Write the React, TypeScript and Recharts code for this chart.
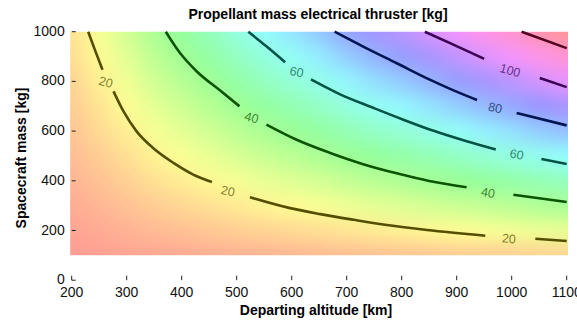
import { ComposedChart, XAxis, YAxis, Scatter, Line } from "recharts";

// grid of the coloured background
const altitudes = [200, 250, 300, 350, 400, 450, 500, 550, 600, 650, 700, 750, 800, 850, 900, 950, 1000, 1050, 1100];
const masses = [100, 200, 300, 400, 500, 600, 700, 800, 900, 1000];
const propellant = [
  [1.6, 2.3, 3.0, 3.8, 4.4, 5.1, 5.7, 6.4, 6.9, 7.5, 8.2, 8.8, 9.3, 9.9, 10.5, 11.1, 11.6, 12.3, 12.8],
  [3.2, 4.6, 6.0, 7.6, 8.8, 10.1, 11.5, 12.7, 13.8, 15.0, 16.4, 17.6, 18.6, 19.7, 20.9, 22.2, 23.3, 24.5, 25.5],
  [4.7, 6.8, 9.0, 11.3, 13.3, 15.2, 17.2, 19.1, 20.8, 22.4, 24.5, 26.3, 27.8, 29.6, 31.4, 33.2, 34.9, 36.8, 38.3],
  [6.3, 9.1, 12.0, 15.1, 17.7, 20.2, 22.9, 25.5, 27.7, 29.9, 32.7, 35.1, 37.1, 39.4, 41.8, 44.3, 46.5, 49.0, 51.0],
  [7.9, 11.4, 15.0, 18.9, 22.1, 25.3, 28.7, 31.9, 34.6, 37.4, 40.9, 43.9, 46.4, 49.3, 52.3, 55.4, 58.2, 61.3, 63.8],
  [9.5, 13.7, 18.0, 22.7, 26.5, 30.3, 34.4, 38.2, 41.5, 44.9, 49.1, 52.7, 55.7, 59.1, 62.7, 66.5, 69.8, 73.5, 76.5],
  [11.1, 16.0, 21.0, 26.5, 30.9, 35.4, 40.1, 44.6, 48.4, 52.4, 57.3, 61.5, 65.0, 69.0, 73.2, 77.6, 81.4, 85.8, 89.3],
  [12.6, 18.2, 24.0, 30.2, 35.4, 40.4, 45.8, 51.0, 55.4, 59.8, 65.4, 70.2, 74.2, 78.8, 83.6, 88.6, 93.0, 98.0, 102.0],
  [14.2, 20.5, 27.0, 34.0, 39.8, 45.5, 51.6, 57.3, 62.3, 67.3, 73.6, 79.0, 83.5, 88.7, 94.1, 99.7, 104.7, 110.3, 114.8],
  [15.8, 22.8, 30.0, 37.8, 44.2, 50.5, 57.3, 63.7, 69.2, 74.8, 81.8, 87.8, 92.8, 98.5, 104.5, 110.8, 116.3, 122.5, 127.5],
];
const colorMax = 128;

const xTicks = [200, 300, 400, 500, 600, 700, 800, 900, 1000, 1100];
const yTicks = [0, 200, 400, 600, 800, 1000];

// contour lines, split where the labels sit
const contour20 = [
  [{ a: 230, m: 1000 }, { a: 242, m: 928 }, { a: 256, m: 847 }],
  [{ a: 276, m: 760 }, { a: 294, m: 680 }, { a: 318, m: 599 }, { a: 348, m: 532 }, { a: 385, m: 472 }, { a: 421, m: 425 }, { a: 455, m: 395 }],
  [{ a: 524, m: 334 }, { a: 597, m: 290 }, { a: 652, m: 266 }, { a: 713, m: 243 }, { a: 773, m: 222 }, { a: 846, m: 202 }, { a: 952, m: 179 }],
  [{ a: 1043, m: 167 }, { a: 1100, m: 158 }],
];
const contour40 = [
  [{ a: 371, m: 1000 }, { a: 397, m: 914 }, { a: 427, m: 841 }, { a: 470, m: 763 }, { a: 505, m: 700 }],
  [{ a: 554, m: 626 }, { a: 609, m: 565 }, { a: 670, m: 512 }, { a: 730, m: 467 }, { a: 791, m: 430 }, { a: 850, m: 399 }, { a: 918, m: 374 }],
  [{ a: 1003, m: 344 }, { a: 1100, m: 315 }],
];
const contour60 = [
  [{ a: 521, m: 1000 }, { a: 554, m: 941 }, { a: 588, m: 877 }],
  [{ a: 635, m: 808 }, { a: 688, m: 748 }, { a: 748, m: 694 }, { a: 803, m: 646 }, { a: 858, m: 601 }, { a: 918, m: 559 }, { a: 971, m: 526 }],
  [{ a: 1054, m: 488 }, { a: 1100, m: 468 }],
];
const contour80 = [
  [{ a: 678, m: 1000 }, { a: 730, m: 940 }, { a: 791, m: 873 }, { a: 850, m: 808 }, { a: 888, m: 770 }, { a: 937, m: 725 }],
  [{ a: 1009, m: 673 }, { a: 1100, m: 623 }],
];
const contour100 = [
  [{ a: 842, m: 1000 }, { a: 890, m: 952 }, { a: 950, m: 891 }],
  [{ a: 1051, m: 814 }, { a: 1100, m: 777 }],
];
const contour120 = [[{ a: 1018, m: 1000 }, { a: 1100, m: 934 }]];

const contourLabels = [
  { a: 262, m: 796, v: 20, tilt: 15 },
  { a: 484, m: 358, v: 20, tilt: 12 },
  { a: 995, m: 166, v: 20, tilt: 5 },
  { a: 527, m: 653, v: 40, tilt: 15 },
  { a: 957, m: 351, v: 40, tilt: 10 },
  { a: 609, m: 837, v: 60, tilt: 12 },
  { a: 1009, m: 505, v: 60, tilt: 12 },
  { a: 970, m: 693, v: 80, tilt: 12 },
  { a: 997, m: 843, v: 100, tilt: 15 },
];

const contours = [
  { level: 20, segs: contour20 },
  { level: 40, segs: contour40 },
  { level: 60, segs: contour60 },
  { level: 80, segs: contour80 },
  { level: 100, segs: contour100 },
  { level: 120, segs: contour120 },
];

const W = 577;
const H = 321;
const LEFT = 71.7;
const TOP = 31.7;
const RIGHT = 10.3;
const XAXIS_H = 40.8;
const PW = W - LEFT - RIGHT;
const PH = H - TOP - XAXIS_H;
const CELL_W = (PW * 50) / 900 + 1;
const CELL_H = (PH * 100) / 1000 + 1;

function hsv(h: number, s: number, v: number) {
  const f = (n: number) => {
    const k = (n + h / 60) % 6;
    return v - v * s * Math.max(0, Math.min(k, 4 - k, 1));
  };
  return [f(5), f(3), f(1)];
}

function cellColor(val: number) {
  const [r, g, b] = hsv(((val / colorMax) * 360) % 360, 1, 1);
  const a = 0.42;
  const c = (x: number) => Math.round(255 * (1 - a + a * x));
  return `rgb(${c(r)},${c(g)},${c(b)})`;
}

function lineColor(level: number) {
  const [r, g, b] = hsv(((level / colorMax) * 360) % 360, 1, 0.33);
  return `rgb(${Math.round(r * 255)},${Math.round(g * 255)},${Math.round(b * 255)})`;
}

const cells = masses.flatMap((m, i) => altitudes.map((a, j) => ({ a, m, v: propellant[i][j] })));

const font = "'Liberation Sans', Arial, sans-serif";

const XTick = (props: any) => {
  const { x, y, payload } = props;
  return (
    <g>
      <line x1={x} x2={x} y1={y - 4.5} y2={y} stroke="#222" strokeWidth={1} />
      <text x={x} y={y + 17} textAnchor="middle" fontSize={14} fontFamily={font} fill="#111">
        {payload.value}
      </text>
    </g>
  );
};

const YTick = (props: any) => {
  const { x, y, payload } = props;
  return (
    <g>
      <line x1={x} x2={x + 4} y1={y} y2={y} stroke="#222" strokeWidth={1} />
      <text x={x - 7} y={y + 4} textAnchor="end" fontSize={14} fontFamily={font} fill="#111">
        {payload.value}
      </text>
    </g>
  );
};

const CellShape = (props: any) => {
  const { cx, cy, payload } = props;
  return <rect x={cx - CELL_W / 2} y={cy - CELL_H / 2} width={CELL_W} height={CELL_H} fill={cellColor(payload.v)} />;
};

const LabelShape = (props: any) => {
  const { cx, cy, payload } = props;
  return (
    <text
      x={cx}
      y={cy}
      transform={`rotate(${payload.tilt} ${cx} ${cy})`}
      textAnchor="middle"
      dominantBaseline="central"
      fontSize={12.5}
      fontFamily={font}
      fill={lineColor(payload.v)}
      fillOpacity={0.72}
    >
      {payload.v}
    </text>
  );
};

export default function App() {
  return (
    <div style={{ position: "absolute", left: 0, top: 0, width: W, height: H, background: "#fff" }}>
      <style>{`.bg-cells { filter: url(#smooth); clip-path: url(#plotClip); }`}</style>
      <svg width={0} height={0} style={{ position: "absolute" }}>
        <defs>
          <filter id="smooth" x="-10%" y="-10%" width="120%" height="120%" colorInterpolationFilters="sRGB">
            <feGaussianBlur stdDeviation="10 9" />
            <feComponentTransfer>
              <feFuncA type="linear" slope={3} intercept={0} />
            </feComponentTransfer>
          </filter>
          <clipPath id="plotClip" clipPathUnits="userSpaceOnUse">
            <rect x={LEFT - 1.5} y={TOP} width={PW + 2.8} height={PH * 0.9} />
          </clipPath>
        </defs>
      </svg>
      <ComposedChart width={W} height={H} margin={{ top: TOP, right: RIGHT, bottom: 0, left: 0 }}>
        <XAxis
          dataKey="a"
          type="number"
          domain={[200, 1100]}
          ticks={xTicks}
          axisLine={false}
          tickLine={false}
          tickSize={0}
          tickMargin={0}
          height={XAXIS_H}
          tick={<XTick />}
          interval={0}
        />
        <YAxis
          dataKey="m"
          type="number"
          domain={[0, 1000]}
          ticks={yTicks}
          axisLine={false}
          tickLine={false}
          tickSize={0}
          tickMargin={0}
          width={LEFT}
          tick={<YTick />}
          interval={0}
        />
        <Scatter data={cells} className="bg-cells" zIndex={-50} shape={<CellShape />} isAnimationActive={false} />
        {contours.flatMap((c) =>
          c.segs.map((seg, i) => (
            <Line
              key={`c${c.level}-${i}`}
              data={seg}
              dataKey="m"
              type="monotone"
              dot={false}
              activeDot={false}
              stroke={lineColor(c.level)}
              strokeWidth={2.6}
              isAnimationActive={false}
            />
          ))
        )}
        <Scatter data={contourLabels} shape={<LabelShape />} isAnimationActive={false} />
      </ComposedChart>
      <svg width={W} height={H} style={{ position: "absolute", left: 0, top: 0, pointerEvents: "none" }}>
        <text x={318} y={19} textAnchor="middle" fontSize={14} fontWeight="bold" fontFamily={font} fill="#000">
          Propellant mass electrical thruster [kg]
        </text>
        <text x={316} y={315} textAnchor="middle" fontSize={14} fontWeight="bold" fontFamily={font} fill="#000">
          Departing altitude [km]
        </text>
        <text
          x={26}
          y={158}
          transform="rotate(-90 26 158)"
          textAnchor="middle"
          fontSize={14}
          fontWeight="bold"
          fontFamily={font}
          fill="#000"
        >
          Spacecraft mass [kg]
        </text>
      </svg>
    </div>
  );
}
